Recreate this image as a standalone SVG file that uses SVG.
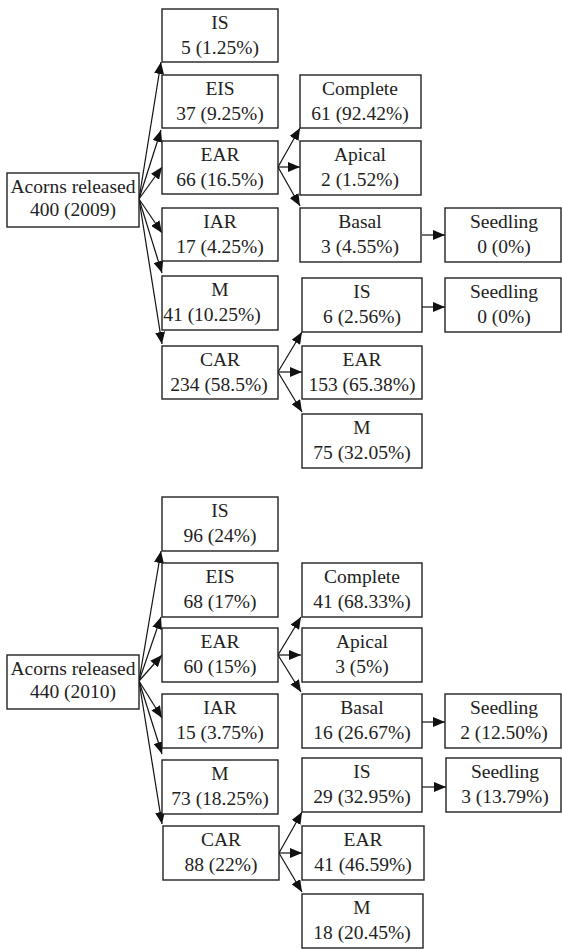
<svg xmlns="http://www.w3.org/2000/svg" width="562" height="949" viewBox="0 0 562 949">
<style>
.b rect{fill:#fff;stroke:#222;stroke-width:1.4}
text{font-family:Liberation Serif,Tinos,Times New Roman,Times,DejaVu Serif,serif;font-size:19.5px;fill:#222;text-anchor:middle}
.c line{stroke:#111;stroke-width:1.2;marker-end:url(#ah)}
</style>
<defs>
<marker id="ah" markerUnits="userSpaceOnUse" markerWidth="12" markerHeight="10" viewBox="0 0 12 10" refX="12" refY="5" orient="auto">
<path d="M0,0 L12,5 L0,10 Z" fill="#111"/>
</marker>
</defs>
<rect width="562" height="949" fill="#fff"/>
<g class="c" id="connectors">
<line x1="139" y1="199" x2="161" y2="62"/>
<line x1="139" y1="199" x2="161" y2="130"/>
<line x1="139" y1="199" x2="162" y2="167"/>
<line x1="139" y1="199" x2="162" y2="233"/>
<line x1="139" y1="199" x2="162" y2="273"/>
<line x1="139" y1="199" x2="162" y2="344"/>
<line x1="278" y1="167" x2="300" y2="128"/>
<line x1="278" y1="167" x2="300" y2="167"/>
<line x1="278" y1="167" x2="300" y2="206"/>
<line x1="278" y1="372" x2="302" y2="332"/>
<line x1="278" y1="372" x2="302" y2="372"/>
<line x1="278" y1="372" x2="302" y2="412"/>
<line x1="422" y1="235" x2="445" y2="235"/>
<line x1="422" y1="307" x2="445" y2="307"/>
<line x1="139" y1="681" x2="161" y2="551"/>
<line x1="139" y1="681" x2="161" y2="617"/>
<line x1="139" y1="681" x2="162" y2="655"/>
<line x1="139" y1="681" x2="162" y2="718"/>
<line x1="139" y1="681" x2="162" y2="754"/>
<line x1="139" y1="681" x2="162" y2="824"/>
<line x1="278" y1="655" x2="301" y2="617"/>
<line x1="278" y1="655" x2="301" y2="655"/>
<line x1="278" y1="655" x2="301" y2="692"/>
<line x1="279" y1="853" x2="302" y2="812"/>
<line x1="279" y1="853" x2="302" y2="853"/>
<line x1="279" y1="853" x2="302" y2="892"/>
<line x1="422" y1="722" x2="445" y2="722"/>
<line x1="422" y1="787" x2="446" y2="787"/>
</g>
<!-- 2009 -->
<g class="b" id="n_acorns2009"><rect x="7" y="173" width="132" height="54"/><text x="73" y="193">Acorns released</text><text x="73" y="216">400 (2009)</text></g>
<g class="b" id="n_is2009"><rect x="162" y="9" width="116" height="53"/><text x="220" y="29">IS</text><text x="220" y="54">5 (1.25%)</text></g>
<g class="b" id="n_eis2009"><rect x="162" y="75" width="116" height="53"/><text x="220" y="95">EIS</text><text x="220" y="120">37 (9.25%)</text></g>
<g class="b" id="n_ear2009"><rect x="162" y="141" width="116" height="53"/><text x="220" y="161">EAR</text><text x="220" y="186">66 (16.5%)</text></g>
<g class="b" id="n_iar2009"><rect x="162" y="208" width="116" height="53"/><text x="220" y="228">IAR</text><text x="220" y="253">17 (4.25%)</text></g>
<g class="b" id="n_m2009"><rect x="162" y="276" width="116" height="54"/><text x="220" y="296">M</text><text x="212" y="321">41 (10.25%)</text></g>
<g class="b" id="n_car2009"><rect x="162" y="346" width="116" height="53"/><text x="220" y="366">CAR</text><text x="219" y="391">234 (58.5%)</text></g>
<g class="b" id="n_complete2009"><rect x="300" y="75" width="121" height="53"/><text x="360" y="95">Complete</text><text x="360" y="120">61 (92.42%)</text></g>
<g class="b" id="n_apical2009"><rect x="300" y="141" width="121" height="54"/><text x="360" y="161">Apical</text><text x="360" y="186">2 (1.52%)</text></g>
<g class="b" id="n_basal2009"><rect x="300" y="208" width="121" height="54"/><text x="360" y="228">Basal</text><text x="360" y="253">3 (4.55%)</text></g>
<g class="b" id="n_seed2009a"><rect x="445" y="208" width="116" height="54"/><text x="504" y="228">Seedling</text><text x="504" y="253">0 (0%)</text></g>
<g class="b" id="n_is2009b"><rect x="302" y="278" width="120" height="54"/><text x="362" y="298">IS</text><text x="362" y="323">6 (2.56%)</text></g>
<g class="b" id="n_seed2009b"><rect x="445" y="278" width="116" height="54"/><text x="504" y="298">Seedling</text><text x="504" y="323">0 (0%)</text></g>
<g class="b" id="n_ear2009b"><rect x="302" y="346" width="120" height="53"/><text x="362" y="366">EAR</text><text x="362" y="391">153 (65.38%)</text></g>
<g class="b" id="n_m2009b"><rect x="302" y="414" width="120" height="54"/><text x="362" y="434">M</text><text x="362" y="459">75 (32.05%)</text></g>
<!-- 2010 -->
<g class="b" id="n_acorns2010"><rect x="7" y="655" width="132" height="54"/><text x="73" y="675">Acorns released</text><text x="73" y="698">440 (2010)</text></g>
<g class="b" id="n_is2010"><rect x="162" y="497" width="116" height="54"/><text x="220" y="517">IS</text><text x="220" y="542">96 (24%)</text></g>
<g class="b" id="n_eis2010"><rect x="162" y="563" width="116" height="54"/><text x="220" y="583">EIS</text><text x="220" y="608">68 (17%)</text></g>
<g class="b" id="n_ear2010"><rect x="162" y="628" width="116" height="54"/><text x="220" y="648">EAR</text><text x="220" y="673">60 (15%)</text></g>
<g class="b" id="n_iar2010"><rect x="162" y="694" width="116" height="54"/><text x="220" y="714">IAR</text><text x="220" y="739">15 (3.75%)</text></g>
<g class="b" id="n_m2010"><rect x="162" y="760" width="116" height="54"/><text x="220" y="780">M</text><text x="220" y="805">73 (18.25%)</text></g>
<g class="b" id="n_car2010"><rect x="163" y="826" width="116" height="54"/><text x="221" y="846">CAR</text><text x="221" y="871">88 (22%)</text></g>
<g class="b" id="n_complete2010"><rect x="302" y="563" width="120" height="54"/><text x="362" y="583">Complete</text><text x="362" y="608">41 (68.33%)</text></g>
<g class="b" id="n_apical2010"><rect x="302" y="628" width="120" height="54"/><text x="362" y="648">Apical</text><text x="362" y="673">3 (5%)</text></g>
<g class="b" id="n_basal2010"><rect x="302" y="694" width="120" height="54"/><text x="362" y="714">Basal</text><text x="362" y="739">16 (26.67%)</text></g>
<g class="b" id="n_seed2010a"><rect x="445" y="694" width="116" height="54"/><text x="504" y="714">Seedling</text><text x="504" y="739">2 (12.50%)</text></g>
<g class="b" id="n_is2010b"><rect x="302" y="758" width="120" height="54"/><text x="362" y="778">IS</text><text x="362" y="803">29 (32.95%)</text></g>
<g class="b" id="n_seed2010b"><rect x="446" y="758" width="115" height="54"/><text x="505" y="778">Seedling</text><text x="505" y="803">3 (13.79%)</text></g>
<g class="b" id="n_ear2010b"><rect x="302" y="826" width="122" height="54"/><text x="363" y="846">EAR</text><text x="363" y="871">41 (46.59%)</text></g>
<g class="b" id="n_m2010b"><rect x="302" y="894" width="121" height="54"/><text x="362" y="914">M</text><text x="362" y="939">18 (20.45%)</text></g>
</svg>
